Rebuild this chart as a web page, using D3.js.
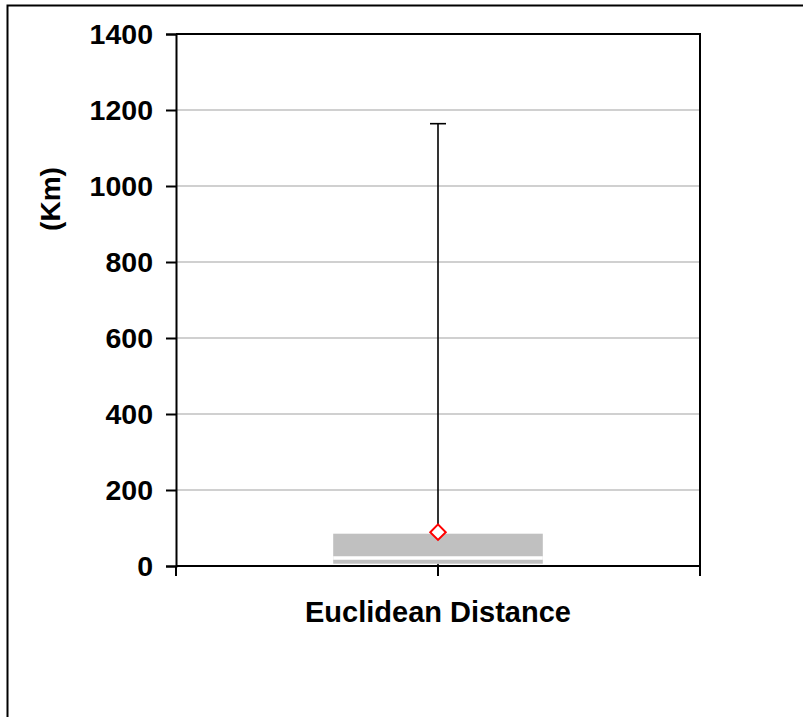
<!DOCTYPE html>
<html>
<head>
<meta charset="utf-8">
<script src="https://cdn.jsdelivr.net/npm/d3@7"></script>
<style>
  body { margin: 0; background: #fff; }
  text { font-family: Arial, "Liberation Sans", sans-serif; font-weight: bold; fill: #000; }
</style>
</head>
<body>
<script>
// box plot values (Km)
var categories = ["Euclidean Distance"];
var minVals = [0];
var q1Vals = [6];
var medianVals = [21];
var q3Vals = [85];
var maxVals = [1164];
var meanVals = [89];
var yTicks = [0, 200, 400, 600, 800, 1000, 1200, 1400];

var svg = d3.select("body").append("svg")
  .attr("width", 803)
  .attr("height", 717);

// outer chart frame (runs off the right / bottom edge)
svg.append("rect")
  .attr("x", 7.5).attr("y", 5.5)
  .attr("width", 820).attr("height", 740)
  .attr("fill", "none").attr("stroke", "#000").attr("stroke-width", 2);

var plotLeft = 176, plotRight = 700, plotTop = 34, plotBottom = 566;

var y = d3.scaleLinear().domain([0, 1400]).range([plotBottom, plotTop]);
var x = d3.scaleBand().domain(categories).range([plotLeft, plotRight])
  .paddingInner(0.6).paddingOuter(0.3);

//gridlines
svg.append("g").selectAll("line")
  .data(yTicks.filter(function(d){ return d > 0 && d < 1400; }))
  .enter().append("line")
  .attr("x1", plotLeft).attr("x2", plotRight)
  .attr("y1", function(d){ return y(d); })
  .attr("y2", function(d){ return y(d); })
  .attr("stroke", "#c0c0c0").attr("stroke-width", 1.5);

// y axis
var yAxis = svg.append("g")
  .attr("transform", "translate(" + plotLeft + ",0)")
  .call(d3.axisLeft(y).tickValues(yTicks).tickFormat(d3.format("d"))
    .tickSize(10).tickPadding(13));
yAxis.select(".domain").attr("stroke-width", 2);
yAxis.selectAll(".tick line").attr("stroke-width", 2);
yAxis.attr("font-family", null).attr("font-size", null);
yAxis.selectAll("text").style("font-size", "28.5px").style("font-weight", "bold");

// x axis, ticks at the edges and the category centre
var xTickPos = [plotLeft, x(categories[0]) + x.bandwidth() / 2, plotRight];
svg.append("line")
  .attr("x1", plotLeft).attr("x2", plotRight).attr("y1", plotBottom).attr("y2", plotBottom)
  .attr("stroke", "#000").attr("stroke-width", 2);
svg.append("g").selectAll("line")
  .data(xTickPos).enter().append("line")
  .attr("x1", function(d){ return d; }).attr("x2", function(d){ return d; })
  .attr("y1", plotBottom).attr("y2", plotBottom + 10)
  .attr("stroke", "#000").attr("stroke-width", 2);

// top and right border of plot area
svg.append("path")
  .attr("d", "M" + plotLeft + "," + plotTop + "H" + plotRight + "V" + plotBottom)
  .attr("fill", "none").attr("stroke", "#000").attr("stroke-width", 2);

svg.append("text")
  .attr("x", x(categories[0]) + x.bandwidth() / 2)
  .attr("y", 622)
  .attr("text-anchor", "middle")
  .style("font-size", "29px")
  .text(categories[0]);

svg.append("text")
  .attr("transform", "translate(60,199) rotate(-90)")
  .attr("text-anchor", "middle")
  .style("font-size", "28px")
  .text("(Km)");

var boxes = svg.append("g").selectAll("g")
  .data(categories).enter().append("g");

// whiskers
boxes.append("line")
  .attr("x1", function(d){ return x(d) + x.bandwidth() / 2; })
  .attr("x2", function(d){ return x(d) + x.bandwidth() / 2; })
  .attr("y1", function(d, i){ return y(q3Vals[i]); })
  .attr("y2", function(d, i){ return y(maxVals[i]); })
  .attr("stroke", "#000").attr("stroke-width", 1.6);
boxes.append("line")
  .attr("x1", function(d){ return x(d) + x.bandwidth() / 2 - 8; })
  .attr("x2", function(d){ return x(d) + x.bandwidth() / 2 + 8; })
  .attr("y1", function(d, i){ return y(maxVals[i]); })
  .attr("y2", function(d, i){ return y(maxVals[i]); })
  .attr("stroke", "#000").attr("stroke-width", 1.6);
boxes.append("line")
  .attr("x1", function(d){ return x(d) + x.bandwidth() / 2; })
  .attr("x2", function(d){ return x(d) + x.bandwidth() / 2; })
  .attr("y1", function(d, i){ return y(minVals[i]); })
  .attr("y2", function(d, i){ return y(q1Vals[i]); })
  .attr("stroke", "#000").attr("stroke-width", 1.6);

// box q1..q3 with a white median line
boxes.append("rect")
  .attr("x", function(d){ return x(d); })
  .attr("width", x.bandwidth())
  .attr("y", function(d, i){ return y(q3Vals[i]); })
  .attr("height", function(d, i){ return y(q1Vals[i]) - y(q3Vals[i]); })
  .attr("fill", "#c0c0c0");
boxes.append("line")
  .attr("x1", function(d){ return x(d); })
  .attr("x2", function(d){ return x(d) + x.bandwidth(); })
  .attr("y1", function(d, i){ return y(medianVals[i]); })
  .attr("y2", function(d, i){ return y(medianVals[i]); })
  .attr("stroke", "#fff").attr("stroke-width", 3.3);

// mean marker
boxes.append("path")
  .attr("d", d3.symbol(d3.symbolSquare).size(120)())
  .attr("transform", function(d, i){
    return "translate(" + (x(d) + x.bandwidth() / 2) + "," + y(meanVals[i]) + ") rotate(45)";
  })
  .attr("fill", "#fff").attr("stroke", "#ff0000").attr("stroke-width", 2);
</script>
</body>
</html>
